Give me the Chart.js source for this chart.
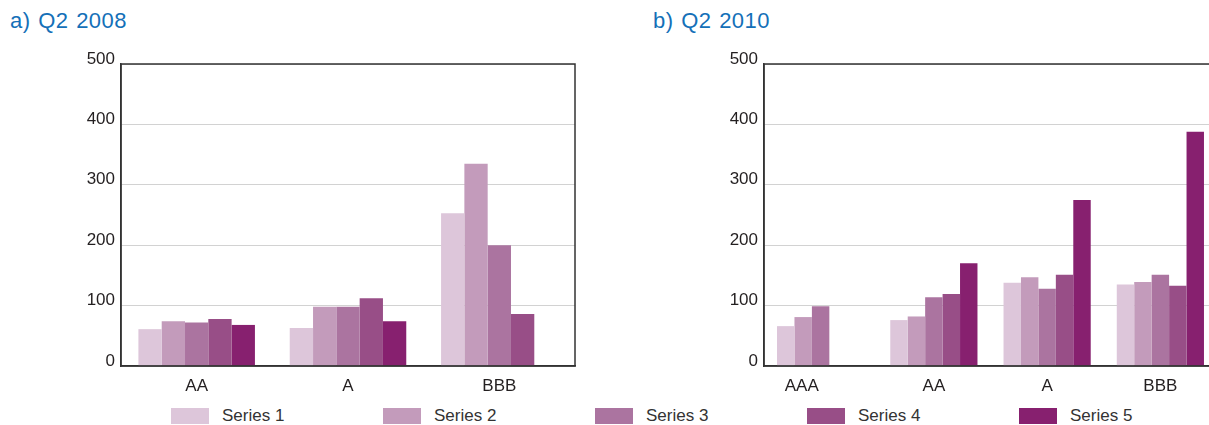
<!DOCTYPE html>
<html>
<head>
<meta charset="utf-8">
<script src="https://cdn.jsdelivr.net/npm/chart.js@4.4.1/dist/chart.umd.min.js"></script>
<style>
  html, body { margin: 0; padding: 0; background: #fff; }
  body { width: 1209px; height: 425px; overflow: hidden; position: relative; font-family: "Liberation Sans", Arial, sans-serif; }
  .title { position: absolute; top: 8px; font-size: 22px; color: #1470b8; letter-spacing: 0.5px; word-spacing: 1px; white-space: nowrap; }
  .box { position: absolute; width: 600px; height: 400px; top: 0; }
  .leg { position: absolute; top: 408px; height: 16px; }
  .leg span.sw { position: absolute; left: 0; top: 0; width: 38px; height: 16px; }
  .leg span.tx { position: absolute; left: 51px; top: -2px; font-size: 17px; color: #333; white-space: nowrap; line-height: 20px; }
</style>
</head>
<body>
<div class="title" style="left:10px">a) Q2 2008</div>
<div class="title" style="left:653px">b) Q2 2010</div>
<div class="box" style="left:0"><canvas id="chartA"></canvas></div>
<div class="box" style="left:640px"><canvas id="chartB"></canvas></div>
<div id="legend"></div>

<script>
// data
const seriesNames = ["Series 1", "Series 2", "Series 3", "Series 4", "Series 5"];
const seriesColors = ["#ddc6da", "#c39bbb", "#ab74a0", "#984e87", "#87206f"];

const catsA = ["AA", "A", "BBB"];
const a_s1 = [61, 63, 253];
const a_s2 = [74, 98, 335];
const a_s3 = [72, 98, 200];
const a_s4 = [78, 112, 86];
const a_s5 = [68, 74, null];

const catsB = ["AAA", "AA", "A", "BBB"];
const b_s1 = [66, 76, 138, 135];
const b_s2 = [81, 82, 147, 139];
const b_s3 = [99, 114, 128, 151];
const b_s4 = [null, 119, 151, 133];
const b_s5 = [null, 170, 275, 388];

const yTicks = [0, 100, 200, 300, 400, 500];

const FONT = "'Liberation Sans', Arial, sans-serif";

// frame round the plot area (top + right edge)
const framePlugin = {
    id: 'frame',
    afterDraw(chart) {
        const a = chart.chartArea;
        const ctx = chart.ctx;
        ctx.save();
        ctx.strokeStyle = '#333';
        ctx.lineWidth = 1.5;
        ctx.strokeRect(a.left, a.top, a.right - a.left, a.bottom - a.top);
        ctx.restore();
    }
};

function makeChart(id, cats, data, yWidth, padRight, labelFn) {
    const ctx = document.getElementById(id).getContext('2d');
    return new Chart(ctx, {
        type: 'bar',
        data: {
            labels: cats,
            datasets: data.map((vals, i) => ({
                label: seriesNames[i],
                data: vals,
                backgroundColor: seriesColors[i],
                borderWidth: 0,
                barPercentage: 1,
                categoryPercentage: 0.77
            }))
        },
        options: {
            responsive: false,
            animation: false,
            devicePixelRatio: 1,
            layout: { padding: { left: 0, right: padRight, top: 64, bottom: 0 } },
            plugins: { legend: { display: false }, tooltip: { enabled: false }, title: { display: false } },
            scales: {
                x: {
                    grid: { display: false },
                    border: { color: '#333', width: 1.5 },
                    ticks: {
                        font: { family: FONT, size: 17 },
                        color: '#231f20',
                        padding: 2,
                        maxRotation: 0,
                        autoSkip: false,
                        callback: labelFn
                    },
                    afterFit(scale) { scale.height = 34; }
                },
                y: {
                    min: yTicks[0],
                    max: yTicks[yTicks.length - 1],
                    afterBuildTicks(scale) { scale.ticks = yTicks.map(v => ({ value: v })); },
                    grid: { color: '#d2d2d2', lineWidth: 1, drawTicks: false },
                    border: { color: '#333', width: 1.5 },
                    ticks: {
                        font: { family: FONT, size: 17 },
                        color: '#231f20',
                        padding: 6,
                        labelOffset: -5
                    },
                    afterFit(scale) { scale.width = yWidth; }
                }
            }
        },
        plugins: [framePlugin]
    });
}

document.getElementById('chartA').width = 600;
document.getElementById('chartA').height = 400;
document.getElementById('chartB').width = 600;
document.getElementById('chartB').height = 400;

makeChart('chartA', catsA, [a_s1, a_s2, a_s3, a_s4, a_s5], 121, 25,
    (v, i) => catsA[i]);
// AAA has only three bars, its label sits under them
makeChart('chartB', catsB, [b_s1, b_s2, b_s3, b_s4, b_s5], 124, 23,
    (v, i) => i === 0 ? catsB[0] + '\u00a0'.repeat(8) : catsB[i]);

// legend
const legend = document.getElementById('legend');
seriesNames.forEach((name, i) => {
    const item = document.createElement('div');
    item.className = 'leg';
    item.style.left = (171 + i * 212) + 'px';
    item.innerHTML = '<span class="sw" style="background:' + seriesColors[i] + '"></span><span class="tx">' + name + '</span>';
    legend.appendChild(item);
});
</script>
</body>
</html>
